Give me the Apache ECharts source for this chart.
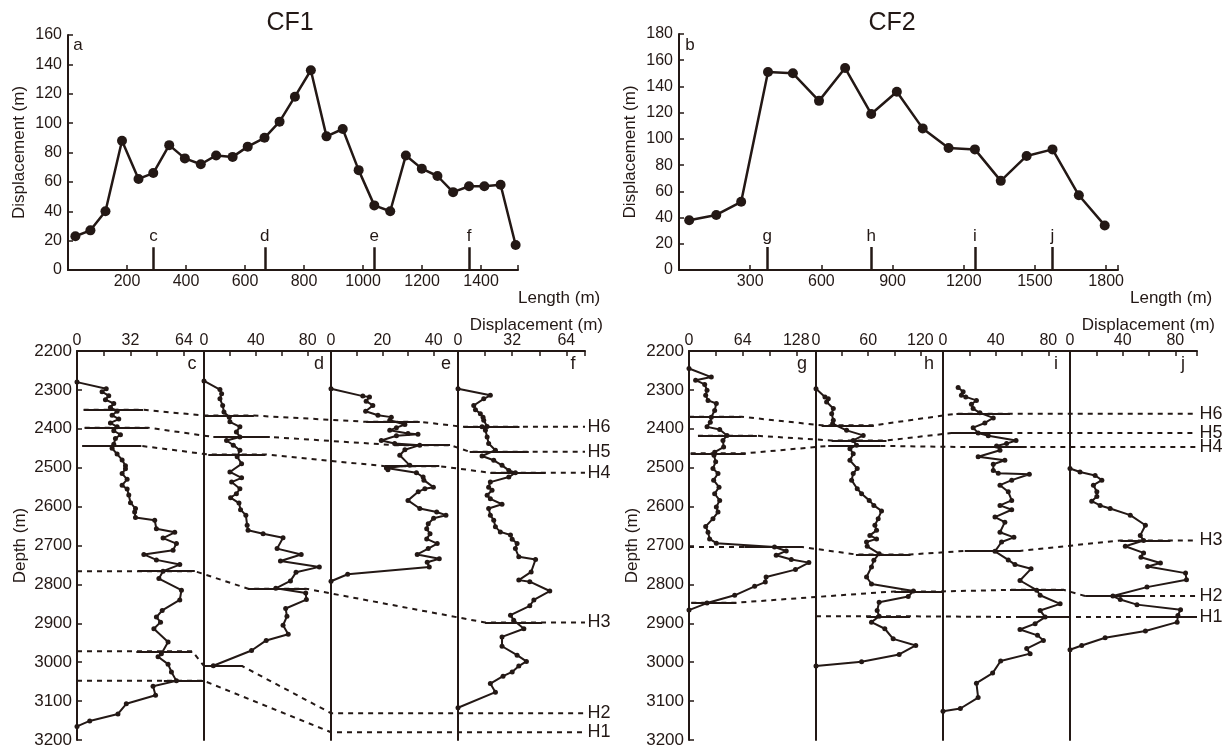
<!DOCTYPE html>
<html>
<head>
<meta charset="utf-8">
<title>CF1 / CF2 displacement</title>
<script src="https://cdn.jsdelivr.net/npm/echarts/dist/echarts.min.js"></script>
<style>
html, body { margin: 0; padding: 0; background: #fff; }
#chart { width: 1231px; height: 752px; }
</style>
</head>
<body>
<div id="chart"></div>
<script>
var ink = '#231815';
var font = '"Liberation Sans", Arial, sans-serif';

// along-strike profiles (top)
var cf1Length = [25, 76, 127, 183, 239, 289, 343, 396, 450, 502, 558, 609, 666, 717, 769, 823, 876, 931, 985, 1038, 1092, 1145, 1199, 1252, 1305, 1359, 1411, 1466, 1517];
var cf1Disp = [23, 27, 40, 88, 62, 66, 85, 76, 72, 78, 77, 84, 90, 101, 118, 136, 91, 96, 68, 44, 40, 78, 69, 64, 53, 57, 57, 58, 17];
var cf1Wells = ['c', 'd', 'e', 'f'];
var cf1WellPos = [290, 667, 1038, 1359];
var cf2Length = [43, 157, 262, 375, 480, 590, 700, 810, 918, 1027, 1136, 1247, 1356, 1465, 1574, 1685, 1794];
var cf2Disp = [38, 42, 52, 151, 150, 129, 154, 119, 136, 108, 93, 92, 68, 87, 92, 57, 34];
var cf2Wells = ['g', 'h', 'i', 'j'];
var cf2WellPos = [372, 810, 1247, 1574];

// depth tracks, [depth, displacement]
var trackC = [[2280,0],[2297,17.5],[2305,15],[2315,19],[2325,17],[2335,22],[2345,20],[2355,24],[2365,21],[2375,25],[2385,20],[2395,24],[2405,22],[2415,26],[2425,23],[2440,22],[2450,21],[2465,24],[2480,27],[2495,29],[2503,29],[2515,27],[2530,30],[2545,27],[2555,30],[2570,31],[2590,32],[2605,35],[2614,34.5],[2628,35],[2635,46.5],[2657,47.5],[2666,58.5],[2681,51.5],[2695,59.5],[2712,57.5],[2723,40],[2737,47.5],[2749,61.5],[2766,51.5],[2785,49],[2815,62.5],[2840,61.5],[2867,51],[2884,47.5],[2897,50],[2914,46],[2948,54.5],[2978,50.5],[2986,48.5],[3005,54.5],[3025,56.5],[3048,59.5],[3062,45.5],[3085,47],[3107,29.5],[3133,24.5],[3151,7.6],[3165,0]];
var trackD = [[2277,0],[2299,12.3],[2310,13.6],[2323,12.3],[2340,14.4],[2357,15.4],[2370,19.5],[2382,20],[2395,27.7],[2408,25],[2421,27.7],[2430,17.4],[2442,22.6],[2455,27.7],[2472,25.6],[2490,29],[2511,20],[2526,29],[2537,21.3],[2554,27.7],[2567,25],[2577,20.5],[2591,27],[2608,28.2],[2622,32.3],[2648,33.3],[2661,34],[2670,45.6],[2680,61],[2708,56.4],[2723,75],[2740,59],[2755,89],[2769,71],[2791,66.7],[2810,55.4],[2822,78.5],[2839,79],[2862,63],[2882,64],[2905,61],[2928,65],[2944,48],[2970,36.7],[3009,7.2]];
var trackE = [[2297,0],[2316,12.4],[2318,15],[2329,13.7],[2340,16.3],[2355,13.5],[2365,18.3],[2370,23.5],[2378,22.9],[2389,28.8],[2397,25.5],[2404,22.9],[2412,30],[2414,33.9],[2418,25.5],[2430,19.6],[2438,24.8],[2442,34.6],[2454,28.8],[2468,26.8],[2494,30.7],[2501,21.6],[2505,22.2],[2513,33.3],[2524,35.9],[2532,36.2],[2550,39.9],[2554,36.6],[2562,34],[2584,30],[2605,34.6],[2614,41.2],[2622,44.8],[2630,40],[2644,37.9],[2657,37.3],[2670,38.6],[2683,37.3],[2695,41.4],[2708,37.9],[2723,33.6],[2734,42.2],[2743,37.5],[2755,38.3],[2774,6.5],[2792,0]];
var trackF = [[2297,0],[2314,19.1],[2323,15.2],[2340,9.3],[2351,10.3],[2361,13.2],[2370,14.8],[2378,15.2],[2394,17.2],[2395,14.2],[2404,16.2],[2421,17.2],[2438,18.1],[2455,22.1],[2470,14.2],[2481,21.1],[2494,26],[2507,30],[2513,33.9],[2524,30],[2537,19.1],[2550,18.1],[2558,20.1],[2571,17.2],[2580,19.1],[2594,26],[2605,18.1],[2622,19.1],[2635,21.1],[2652,22.1],[2665,25],[2673,31],[2684,32],[2695,34.9],[2708,33.9],[2729,35.9],[2736,45.8],[2768,43.2],[2789,35.9],[2793,42.4],[2817,54.2],[2840,44.8],[2855,42.4],[2879,31],[2892,32.9],[2914,38.9],[2935,26],[2959,26],[2982,34.9],[2998,40.4],[3010,35.9],[3025,32],[3036,26.6],[3055,19.1],[3077,22.1],[3117,0]];
var trackG = [[2245,0],[2267,26.6],[2275,7.9],[2286,18.7],[2301,21.5],[2314,19.9],[2327,22.7],[2335,32.6],[2353,30.6],[2370,26.6],[2383,25.4],[2395,21.5],[2402,36.6],[2417,45.3],[2430,40.5],[2447,41.3],[2460,30.6],[2468,29.8],[2485,31.8],[2502,28.6],[2515,34.6],[2532,29.4],[2550,35.8],[2567,30.6],[2584,36.6],[2601,32.6],[2614,34.6],[2631,28.6],[2651,19.9],[2666,22.7],[2683,24.6],[2694,32.6],[2704,102],[2714,116],[2725,104],[2736,122],[2744,143],[2762,127],[2781,92],[2794,91],[2805,78.3],[2828,54.5],[2848,21.5],[2866,0]];
var trackH = [[2297,0],[2318,10.3],[2323,14.1],[2331,12.2],[2348,19.9],[2361,18],[2378,19.9],[2387,19.1],[2404,35.2],[2417,54.3],[2430,42.8],[2442,46.6],[2451,39],[2464,42.8],[2481,39],[2502,47.4],[2515,42.8],[2532,40.9],[2554,47.4],[2567,52.4],[2584,61.2],[2597,66.5],[2611,75.3],[2631,71.5],[2648,67.7],[2661,69.6],[2674,61.9],[2683,69.6],[2691,58.1],[2702,58.9],[2721,72.6],[2738,66.5],[2755,63.8],[2781,58.1],[2799,63.8],[2817,112],[2831,106],[2846,72.6],[2867,70.3],[2882,72.6],[2897,63.8],[2914,79.1],[2940,88.7],[2957,114.7],[2980,95.6],[2999,52.4],[3010,0]];
var trackI = [[2294,11.5],[2305,15.3],[2314,14],[2318,17.3],[2327,25.4],[2337,21.6],[2348,22.9],[2359,28],[2372,38.2],[2385,31.8],[2397,22.9],[2411,26.7],[2418,34.4],[2430,55.5],[2438,48.3],[2444,40.7],[2455,43.3],[2472,26.7],[2481,47],[2491,38.2],[2507,38.2],[2514,42],[2517,65.6],[2532,52.2],[2545,43.3],[2562,49.6],[2584,52.2],[2597,43.3],[2608,52.2],[2627,39.5],[2640,47],[2666,43.3],[2679,53.9],[2691,44.5],[2715,39.5],[2737,49.6],[2749,54.7],[2760,66.9],[2790,58.5],[2815,71.2],[2828,73.8],[2850,89],[2867,73.8],[2884,77.6],[2901,70],[2916,58.5],[2931,71.8],[2944,76.3],[2965,63.6],[2978,66.2],[2997,43.8],[3028,37.7],[3054,25.4],[3091,26.7],[3119,13.2],[3126,0]];
var trackJ = [[2502,0],[2511,7.6],[2520,19.1],[2532,24.2],[2545,17.8],[2562,20.4],[2574,20.4],[2586,16.5],[2597,22.9],[2605,30.5],[2622,45.8],[2648,57.3],[2674,53.4],[2687,55.9],[2702,42],[2719,55.9],[2730,53.9],[2745,68.7],[2754,59],[2771,87.8],[2788,88.5],[2807,58.5],[2830,32.6],[2839,38.2],[2852,50.9],[2865,84],[2880,82],[2897,81.4],[2920,57.3],[2937,26.7],[2957,8.9],[2968,0]];

var leftTracks = [trackC, trackD, trackE, trackF];
var leftMax = [76, 98, 49.5, 75];
var leftStep = [16, 20, 10, 16];
var rightTracks = [trackG, trackH, trackI, trackJ];
var rightMax = [151.5, 146, 96.5, 96.5];
var rightStep = [32, 30, 20, 20];

// horizon picks: [track, depth, from, to, solid]
var leftHorizons = [
  ['H6', [[0,2351,4,39.5,1],[1,2366,0,38.5,1],[2,2382,13.7,34.6,1],[3,2395,3.4,36.3,1]]],
  ['H5', [[0,2397,4.6,42.5,1],[1,2421,7.2,50.8,1],[2,2442,24.8,46.4,1],[3,2459,6.9,41.8,1]]],
  ['H4', [[0,2444,3.2,38.5,1],[1,2466,3.3,47.4,1],[2,2496,20.9,42.2,1],[3,2513,19.1,51.7,1]]],
  ['H3', [[0,2766,0,36.5,0],[0,2766,36.5,70.5,1],[1,2811,34,78.5,1],[3,2898,16,49.7,1]]],
  ['H2', [[0,2972,0,35.5,0],[0,2972,35.5,69,1],[1,3010,0,29.5,1],[2,3131,0,0,0]]],
  ['H1', [[0,3048,0,52,0],[0,3048,52,76,1],[2,3180,0,0,0]]]
];
var rightHorizons = [
  ['H6', [[0,2369,0,62.4,1],[1,2391,6.5,66.5,1],[2,2361,10.2,50.9,1]]],
  ['H5', [[0,2418,10.7,81,1],[1,2430,18,81,1],[2,2411,6.4,50.9,1]]],
  ['H4', [[0,2463,2,67.6,1],[1,2444,14,74,1],[2,2447,19.8,63.6,1]]],
  ['H3', [[0,2704,0,66,0],[0,2704,66,135,1],[1,2723,45.9,108.6,1],[2,2714,16.5,58.5,1],[3,2687,38.2,76.3,1]]],
  ['H2', [[0,2847,2.8,56.4,1],[1,2818,90,146,1],[2,2814,50.9,91.6,1],[3,2830,11.5,56,1]]],
  ['H1', [[1,2882,0,58,0],[1,2882,58,108,1],[2,2884,58.5,96.7,1],[3,2884,61,96.5,1]]]
];

var cf1TickTop = 15.5, cf2TickTop = 17.5;

var trackW = 127, trackTop = 351, trackH = 389;
var leftX0 = 77, rightX0 = 689;

var grids = [
  { left: 68, top: 35, width: 450, height: 235 },
  { left: 679, top: 34, width: 439, height: 236 }
];
for (var k = 0; k < 4; k++) grids.push({ left: leftX0 + k * trackW, top: trackTop, width: trackW, height: trackH });
for (var k = 0; k < 4; k++) grids.push({ left: rightX0 + k * trackW, top: trackTop, width: trackW, height: trackH });
grids.push({ left: leftX0, top: trackTop, width: 4 * trackW, height: trackH });
grids.push({ left: rightX0, top: trackTop, width: 4 * trackW, height: trackH });

function lineOf(w) { return { show: true, onZero: false, lineStyle: { color: ink, width: w } }; }
function tickOf(show) { return { show: show, inside: true, length: 5, lineStyle: { color: ink, width: 1.5 } }; }

function profileX(grid, max, step) {
  return {
    gridIndex: grid, type: 'value', min: 0, max: max, interval: step,
    axisLine: lineOf(2), axisTick: tickOf(true), splitLine: { show: false },
    axisLabel: { margin: 4, color: ink, fontSize: 16, fontFamily: font,
      formatter: function (v) { return (v > 0 && v % step === 0) ? String(v) : ''; } }
  };
}
function profileY(grid, max) {
  return {
    gridIndex: grid, type: 'value', min: 0, max: max, interval: 20,
    axisLine: lineOf(2), axisTick: tickOf(true), splitLine: { show: false },
    axisLabel: { margin: 6, color: ink, fontSize: 16, fontFamily: font },
    name: 'Displacement (m)', nameLocation: 'middle', nameGap: 40, nameRotate: 90,
    nameTextStyle: { color: ink, fontSize: 17, fontFamily: font }
  };
}
function trackX(grid, max, step) {
  return {
    gridIndex: grid, type: 'value', position: 'top', min: 0, max: max, interval: step,
    axisLine: lineOf(2), axisTick: tickOf(true), splitLine: { show: false },
    axisLabel: { margin: 2, color: ink, fontSize: 16, fontFamily: font,
      formatter: function (v) { return (v % (2 * step) === 0) ? String(v) : ''; } }
  };
}
function trackY(grid, first) {
  return {
    gridIndex: grid, type: 'value', inverse: true, min: 2200, max: 3200, interval: 100,
    axisLine: lineOf(2), axisTick: tickOf(first), splitLine: { show: false },
    axisLabel: { show: first, margin: 5, color: ink, fontSize: 17, fontFamily: font,
      formatter: function (v) { return String(v); } },
    name: first ? 'Depth (m)' : '', nameLocation: 'middle', nameGap: 48, nameRotate: 90,
    nameTextStyle: { color: ink, fontSize: 17, fontFamily: font }
  };
}

var xAxes = [profileX(0, 1525, 200), profileX(1, 1850, 300)];
var yAxes = [profileY(0, 160), profileY(1, 180)];
for (var k = 0; k < 4; k++) { xAxes.push(trackX(2 + k, leftMax[k], leftStep[k])); yAxes.push(trackY(2 + k, k === 0)); }
for (var k = 0; k < 4; k++) { xAxes.push(trackX(6 + k, rightMax[k], rightStep[k])); yAxes.push(trackY(6 + k, k === 0)); }
[10, 11].forEach(function (g) {
  xAxes.push({ gridIndex: g, type: 'value', min: 0, max: 4, show: false });
  yAxes.push({ gridIndex: g, type: 'value', inverse: true, min: 2200, max: 3200, show: false });
});

var series = [];

function profileSeries(idx, xs, ys) {
  return {
    type: 'line', xAxisIndex: idx, yAxisIndex: idx,
    data: xs.map(function (x, i) { return [x, ys[i]]; }),
    symbol: 'circle', symbolSize: 10, itemStyle: { color: ink },
    lineStyle: { color: ink, width: 2.5 }, animation: false
  };
}
function wellSeries(idx, pos, names, top) {
  return {
    type: 'lines', coordinateSystem: 'cartesian2d', xAxisIndex: idx, yAxisIndex: idx,
    data: pos.map(function (x, i) { return { name: names[i], coords: [[x, 0], [x, top]] }; }),
    lineStyle: { color: ink, width: 2.5, opacity: 1 },
    label: { show: true, position: 'end', distance: 2, formatter: '{b}', color: ink, fontSize: 17, fontFamily: font },
    animation: false
  };
}
series.push(profileSeries(0, cf1Length, cf1Disp));
series.push(profileSeries(1, cf2Length, cf2Disp));
series.push(wellSeries(0, cf1WellPos, cf1Wells, cf1TickTop));
series.push(wellSeries(1, cf2WellPos, cf2Wells, cf2TickTop));

function trackSeries(idx, pts) {
  return {
    type: 'line', xAxisIndex: idx, yAxisIndex: idx,
    data: pts.map(function (p) { return [p[1], p[0]]; }),
    symbol: 'circle', symbolSize: 5, itemStyle: { color: ink },
    lineStyle: { color: ink, width: 2 }, animation: false
  };
}
leftTracks.forEach(function (t, k) { series.push(trackSeries(2 + k, t)); });
rightTracks.forEach(function (t, k) { series.push(trackSeries(6 + k, t)); });

function horizonSeries(idx, horizons, maxes) {
  var dashed = [], solid = [], ends = [];
  horizons.forEach(function (h) {
    var path = [];
    h[1].forEach(function (p) {
      var a = [p[0] + p[2] / maxes[p[0]], p[1]];
      var b = [p[0] + p[3] / maxes[p[0]], p[1]];
      path.push(a);
      if (p[3] !== p[2]) path.push(b);
      if (p[4]) solid.push({ coords: [a, b] });
    });
    var last = path[path.length - 1];
    path.push([4, last[1]]);
    dashed.push({ coords: path });
    ends.push({ name: h[0], value: [4, last[1]] });
  });
  return [
    {
      type: 'lines', coordinateSystem: 'cartesian2d', xAxisIndex: idx, yAxisIndex: idx, polyline: true,
      data: dashed, lineStyle: { color: ink, width: 2, type: [5, 5], opacity: 1 }, animation: false
    },
    {
      type: 'lines', coordinateSystem: 'cartesian2d', xAxisIndex: idx, yAxisIndex: idx,
      data: solid, lineStyle: { color: ink, width: 2, opacity: 1 }, animation: false
    },
    {
      type: 'scatter', xAxisIndex: idx, yAxisIndex: idx, data: ends, symbolSize: 1,
      itemStyle: { color: 'rgba(0,0,0,0)', opacity: 1 },
      label: { show: true, position: 'right', distance: 2, formatter: '{b}', color: ink, opacity: 1, fontSize: 18, fontFamily: font },
      animation: false
    }
  ];
}
series = series.concat(horizonSeries(10, leftHorizons, leftMax));
series = series.concat(horizonSeries(11, rightHorizons, rightMax));

function txt(s, x, y, size, align) {
  return { type: 'text', x: x, y: y, silent: true,
    style: { text: s, fill: ink, font: size + 'px ' + font, textAlign: align || 'center', textVerticalAlign: 'middle' } };
}
var texts = [
  txt('CF1', 290, 23, 25), txt('CF2', 892, 23, 25),
  txt('a', 78, 45, 17), txt('b', 690, 45, 17),
  txt('Length (m)', 518, 298, 17, 'left'), txt('Length (m)', 1130, 298, 17, 'left'),
  txt('Displacement (m)', 603, 325, 17, 'right'), txt('Displacement (m)', 1215, 325, 17, 'right')
];
['c', 'd', 'e', 'f'].forEach(function (s, k) { texts.push(txt(s, leftX0 + (k + 1) * trackW - 12, 364, 18)); });
['g', 'h', 'i', 'j'].forEach(function (s, k) { texts.push(txt(s, rightX0 + (k + 1) * trackW - 14, 364, 18)); });

var chart = echarts.init(document.getElementById('chart'));
chart.setOption({
  backgroundColor: '#fff',
  animation: false,
  textStyle: { fontFamily: font },
  grid: grids,
  xAxis: xAxes,
  yAxis: yAxes,
  series: series,
  graphic: texts
});
window.addEventListener('resize', function () { chart.resize(); });
</script>
</body>
</html>
